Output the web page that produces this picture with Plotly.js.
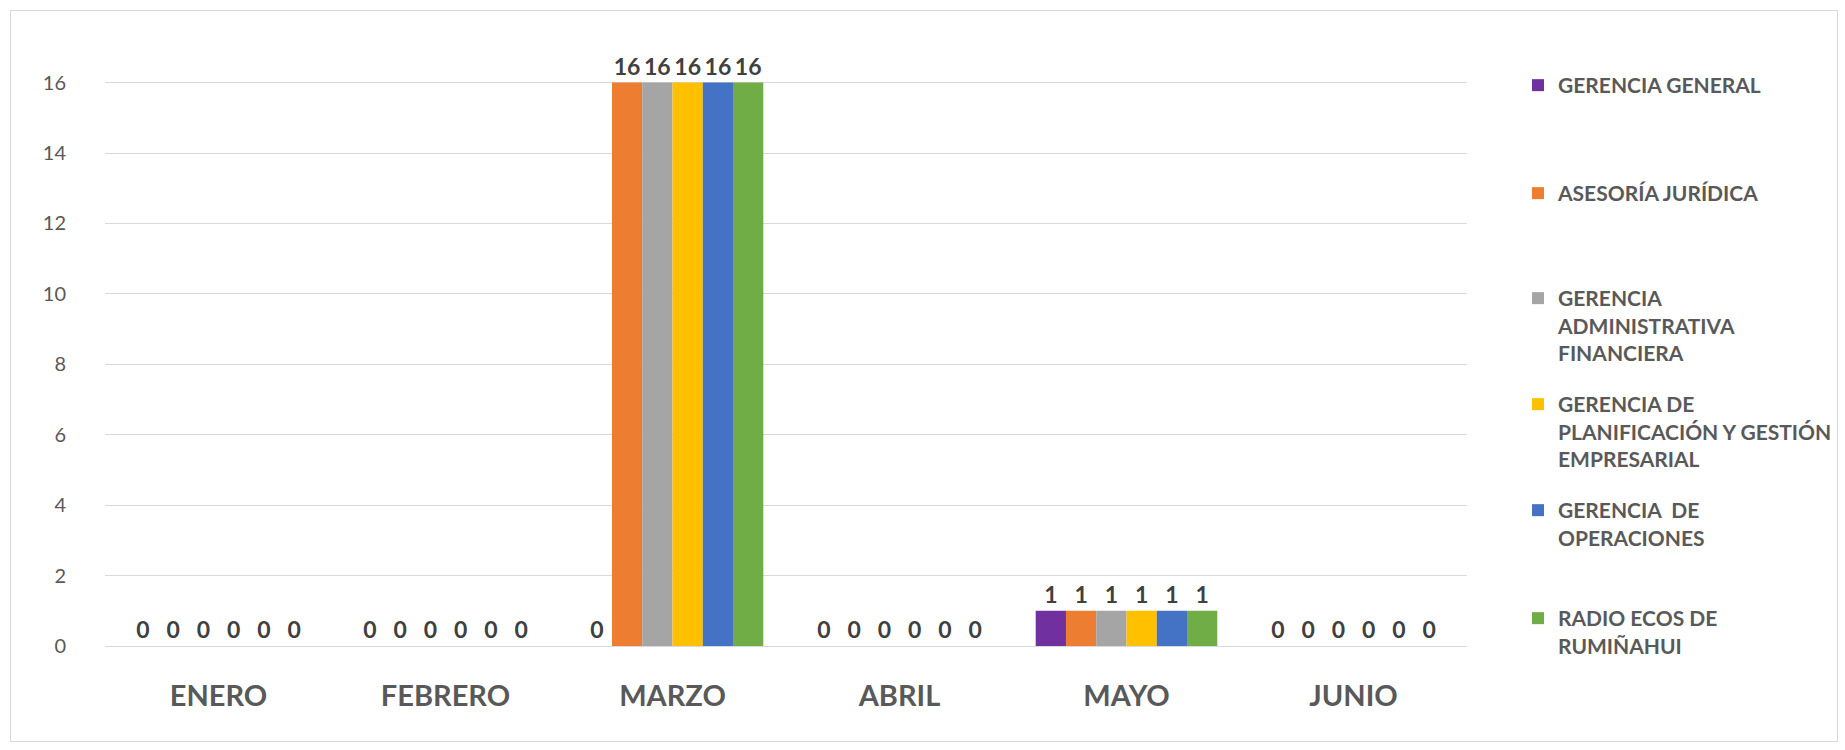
<!DOCTYPE html>
<html>
<head>
<meta charset="utf-8">
<script src="https://cdn.plot.ly/plotly-3.0.1.min.js"></script>
<style>
  html, body { margin: 0; padding: 0; background: #ffffff; }
  #wrap { position: relative; width: 1845px; height: 750px; }
  #chart { width: 1845px; height: 750px; }
  #frame { position: absolute; left: 10px; top: 10px; width: 1828px; height: 732px;
           border: 1px solid #d9d9d9; pointer-events: none; box-sizing: border-box; }
</style>
</head>
<body>
<div id="wrap">
  <div id="chart"></div>
  <div id="frame"></div>
</div>
<script>
// ---- data ----
const months = ["ENERO", "FEBRERO", "MARZO", "ABRIL", "MAYO", "JUNIO"];
const seriesNames = [
  "GERENCIA GENERAL",
  "ASESORÍA JURÍDICA",
  "GERENCIA<br>ADMINISTRATIVA<br>FINANCIERA",
  "GERENCIA DE<br>PLANIFICACIÓN Y GESTIÓN<br>EMPRESARIAL",
  "GERENCIA  DE<br>OPERACIONES",
  "RADIO ECOS DE<br>RUMIÑAHUI"
];
const gerenciaGeneral        = [0, 0, 0, 0, 1, 0];
const asesoriaJuridica       = [0, 0, 16, 0, 1, 0];
const gerenciaAdministrativa = [0, 0, 16, 0, 1, 0];
const gerenciaPlanificacion  = [0, 0, 16, 0, 1, 0];
const gerenciaOperaciones    = [0, 0, 16, 0, 1, 0];
const radioEcos              = [0, 0, 16, 0, 1, 0];
const seriesValues = [gerenciaGeneral, asesoriaJuridica, gerenciaAdministrativa,
                      gerenciaPlanificacion, gerenciaOperaciones, radioEcos];
const yTicks = [0, 2, 4, 6, 8, 10, 12, 14, 16];

// ---- styles ----
const colors = ["#7030A0", "#ED7D31", "#A5A5A5", "#FFC000", "#4472C4", "#70AD47"];
const legendTops = [65, 173, 278, 384, 490, 598]; // px from top
const FONT = "Lato, 'Open Sans', sans-serif";

const traces = seriesValues.map((vals, i) => ({
  type: "bar",
  name: seriesNames[i],
  x: months,
  y: vals,
  marker: { color: colors[i] },
  texttemplate: "%{y}",
  textposition: "outside",
  cliponaxis: false,
  textangle: 0,
  constraintext: "none",
  textfont: { family: FONT, size: 23, color: "#404040", weight: "bold" },
  legend: i === 0 ? "legend" : "legend" + (i + 1),
  hoverinfo: "skip"
}));

const layout = {
  width: 1845,
  height: 750,
  paper_bgcolor: "#ffffff",
  plot_bgcolor: "#ffffff",
  margin: { l: 105, r: 378, t: 65, b: 104 },
  barmode: "group",
  bargap: 0.2,
  bargroupgap: 0,
  font: { family: FONT, color: "#595959" },
  xaxis: {
    tickfont: { family: FONT, size: 29, color: "#595959", weight: "bold" },
    showgrid: false,
    showline: false,
    ticks: "",
    ticklabelstandoff: 30
  },
  yaxis: {
    range: [0, 16.5],
    tickvals: yTicks,
    tickfont: { family: FONT, size: 20, color: "#595959" },
    gridcolor: "#d9d9d9",
    gridwidth: 1,
    zeroline: true,
    zerolinecolor: "#d9d9d9",
    showline: false,
    ticks: "",
    ticklabelstandoff: 38
  },
  showlegend: true
};

legendTops.forEach((top, i) => {
  const key = i === 0 ? "legend" : "legend" + (i + 1);
  layout[key] = {
    xref: "container", yref: "container",
    x: 1518 / 1845, xanchor: "left",
    y: 1 - top / 750, yanchor: "top",
    bgcolor: "rgba(0,0,0,0)",
    font: { family: FONT, size: 21, color: "#595959", weight: "bold" },
    valign: "top",
    itemwidth: 30,
    tracegroupgap: 0
  };
});

Plotly.newPlot("chart", traces, layout, { displayModeBar: false, staticPlot: true });
</script>
</body>
</html>
